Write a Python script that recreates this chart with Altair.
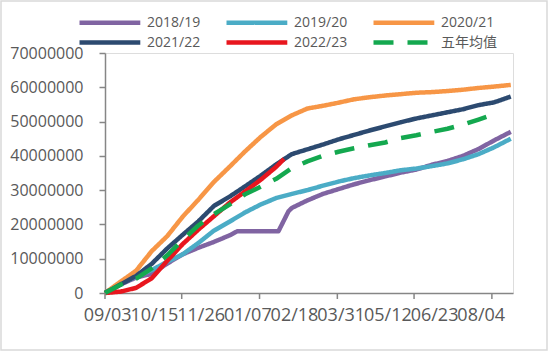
import altair as alt
import pandas as pd

# ---- data (values in millions) ----
series_names = ["2018/19", "2019/20", "2020/21", "2021/22", "2022/23", "五年均值"]
series_colors = ["#8064a2", "#4bacc6", "#f79646", "#2c4a70", "#e8161e", "#14a84f"]

grid_dates = ["2019-09-01", "2019-09-15", "2019-09-29", "2019-10-13", "2019-10-27",
              "2019-11-10", "2019-11-24", "2019-12-08", "2019-12-22", "2020-01-05",
              "2020-01-19", "2020-02-02", "2020-02-16", "2020-03-01", "2020-03-15",
              "2020-03-29", "2020-04-12", "2020-04-26", "2020-05-10", "2020-05-24",
              "2020-06-07", "2020-06-21", "2020-07-05", "2020-07-19", "2020-08-02",
              "2020-08-16", "2020-08-31"]

purple_dates = ["2019-09-01", "2019-09-15", "2019-09-29", "2019-10-13", "2019-10-27",
                "2019-11-10", "2019-11-24", "2019-12-08", "2019-12-22", "2019-12-29",
                "2020-02-04", "2020-02-13", "2020-02-16", "2020-03-01", "2020-03-15",
                "2020-03-29", "2020-04-12", "2020-04-26", "2020-05-10", "2020-05-24",
                "2020-06-07", "2020-06-21", "2020-07-05", "2020-07-19", "2020-08-02",
                "2020-08-16", "2020-08-31"]
v_1819 = [0, 2.5, 4.5, 5.6, 8.6, 11.3, 13.2, 14.9, 16.8, 18.0, 18.0, 23.8, 24.8, 27.0,
          28.9, 30.3, 31.7, 32.9, 34.0, 35.1, 36.0, 37.4, 38.5, 40.0, 42.0, 44.5, 47.0]

v_1920 = [0, 2.8, 4.8, 6.7, 9.1, 11.3, 14.6, 18.2, 20.8, 23.5, 25.8, 27.7, 28.9, 30.0,
          31.3, 32.5, 33.5, 34.3, 35.0, 35.8, 36.3, 37.0, 37.8, 39.0, 40.5, 42.5, 45.0]

v_2021 = [0, 3.3, 6.5, 12.2, 16.6, 22.3, 27.2, 32.4, 36.8, 41.3, 45.5, 49.2, 51.8, 53.8,
          54.6, 55.5, 56.5, 57.1, 57.6, 58.0, 58.4, 58.6, 58.9, 59.3, 59.8, 60.2, 60.7]

v_2122 = [0, 2.5, 5.0, 8.5, 13.0, 17.0, 20.9, 25.4, 28.1, 31.1, 34.2, 37.5, 40.5, 41.9,
          43.3, 44.8, 46.1, 47.4, 48.6, 49.8, 50.9, 51.8, 52.7, 53.6, 54.8, 55.6, 57.3]

red_dates = ["2019-09-01", "2019-09-15", "2019-09-29", "2019-10-13", "2019-10-27",
             "2019-11-10", "2019-11-24", "2019-12-08", "2019-12-22", "2020-01-05",
             "2020-01-19", "2020-02-02", "2020-02-09"]
v_2223 = [0, 0.4, 1.5, 4.3, 9.4, 14.3, 18.5, 22.4, 26.3, 29.6, 33.0, 36.8, 39.1]

green_dates = grid_dates[:26]
v_avg = [0, 2.4, 4.2, 7.2, 11.0, 15.5, 19.7, 23.0, 25.8, 28.8, 31.0, 33.3, 36.4, 38.4,
         40.0, 41.2, 42.2, 43.1, 43.9, 45.2, 46.0, 47.0, 47.9, 49.1, 50.6, 52.2]

x_label_dates = ["2019-09-03", "2019-10-15", "2019-11-26", "2020-01-07", "2020-02-18",
                 "2020-03-31", "2020-05-12", "2020-06-23", "2020-08-04"]
x_tick_dates = ["2019-09-01", "2019-11-09", "2020-01-18", "2020-03-28", "2020-06-05",
                "2020-08-14"]
x_domain = ["2019-09-01", "2020-09-02"]
y_ticks = [0, 10000000, 20000000, 30000000, 40000000, 50000000, 60000000, 70000000]


def dt(s):
    y, m, d = s.split("-")
    return alt.DateTime(year=int(y), month=int(m), date=int(d), utc=True)


rows = []
for name, ds, vs in [("2018/19", purple_dates, v_1819),
                     ("2019/20", grid_dates, v_1920),
                     ("2020/21", grid_dates, v_2021),
                     ("2021/22", grid_dates, v_2122),
                     ("2022/23", red_dates, v_2223),
                     ("五年均值", green_dates, v_avg)]:
    for d, v in zip(ds, vs):
        rows.append({"date": d, "value": v * 1e6, "series": name})
df = pd.DataFrame(rows)
tick_df = pd.DataFrame({"date": x_tick_dates})

FONT = "Open Sans, Noto Sans CJK SC"
AXIS_GRAY = "#868686"
LABEL_GRAY = "#595959"
xscale = alt.Scale(type="utc", domain=[dt(x_domain[0]), dt(x_domain[1])])
yscale = alt.Scale(domain=[0, 70000000])

lines = alt.Chart(df).mark_line(strokeJoin="round").encode(
    x=alt.X("date:T", scale=xscale, title=None,
            axis=alt.Axis(values=[dt(s) for s in x_label_dates],
                          labelExpr="utcFormat(datum.value, '%m/%d')",
                          ticks=False, tickSize=0, labelPadding=13, grid=False,
                          domainColor=AXIS_GRAY, domainWidth=1.5,
                          labelOverlap=False, labelFlush=False,
                          labelFont=FONT, labelFontSize=18, labelColor=LABEL_GRAY)),
    y=alt.Y("value:Q", scale=yscale, title=None,
            axis=alt.Axis(values=y_ticks, format="d", tickSize=6, labelPadding=16,
                          grid=False, domainColor=AXIS_GRAY, tickColor=AXIS_GRAY,
                          domainWidth=1.5, tickWidth=1.5,
                          labelFont=FONT, labelFontSize=16, labelColor=LABEL_GRAY)),
    color=alt.Color("series:N", scale=alt.Scale(domain=series_names, range=series_colors),
                    legend=alt.Legend(title=None, orient="none", legendX=-28, legendY=-41,
                                      columns=3, direction="horizontal",
                                      symbolType="M-1,0H6.6", symbolSize=256,
                                      symbolStrokeWidth=5.5, labelFontSize=14,
                                      labelFont=FONT, labelColor=LABEL_GRAY,
                                      columnPadding=16, rowPadding=0, labelOffset=49)),
    strokeDash=alt.StrokeDash("series:N",
                              scale=alt.Scale(domain=series_names,
                                              range=[[1, 0], [1, 0], [1, 0], [1, 0], [1, 0], [20, 14]]),
                              legend=alt.Legend(title=None)),
    strokeWidth=alt.StrokeWidth("series:N",
                                scale=alt.Scale(domain=series_names,
                                                range=[4.5, 4.5, 4.5, 4.5, 5.5, 5]),
                                legend=None),
)

ticks = alt.Chart(tick_df).mark_rule(color=AXIS_GRAY, strokeWidth=1.5).encode(
    x=alt.X("date:T", scale=xscale, title=None),
    y=alt.value(240), y2=alt.value(246),
)

frame = alt.Chart(pd.DataFrame({"k": [0]})).mark_rect(
    fill="transparent", stroke="#d9d9d9", strokeWidth=1.5
).encode(x=alt.value(-104), x2=alt.value(442), y=alt.value(-52), y2=alt.value(297))

chart = alt.layer(frame, lines, ticks).properties(
    width=408, height=240,
    autosize=alt.AutoSizeParams(type="none"),
    padding={"left": 105, "top": 53, "right": 37, "bottom": 61},
).configure_view(stroke=None).configure(background="white")

chart.save("out.html", embed_options={"renderer": "svg", "actions": False})
